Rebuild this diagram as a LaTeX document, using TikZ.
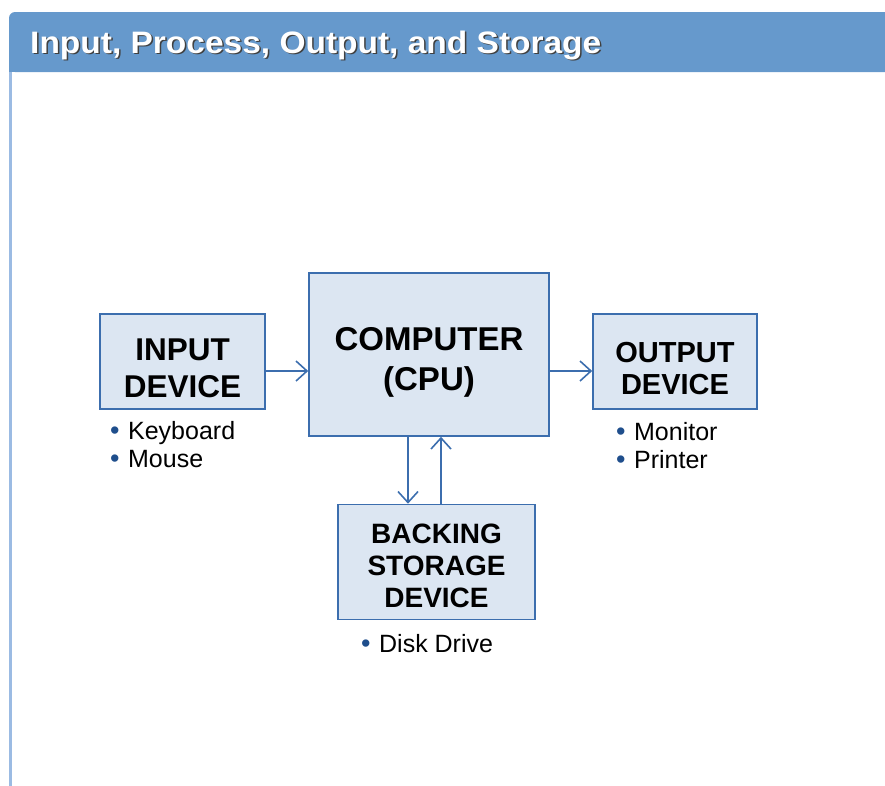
\documentclass[tikz,border=0pt]{standalone}
\usepackage{fontspec}
\setmainfont{Liberation Sans}
\usetikzlibrary{positioning,arrows.meta}
\definecolor{boxfill}{HTML}{DCE6F2}
\definecolor{boxline}{HTML}{3C6EAE}
\definecolor{bandblue}{HTML}{6699CC}
\definecolor{paneledge}{HTML}{9BBBE3}
\definecolor{dotblue}{HTML}{1F4E8C}
\newcommand{\itm}[1]{{\color{dotblue}\fontsize{27}{27}\selectfont\textbullet}\hspace{8.5pt}#1}
% taller first line pushes the box text a little down
\newcommand{\lift}[1]{\rule{0pt}{#1}}

\begin{document}
\begin{tikzpicture}[x=1pt,y=-1pt,
every node/.style={inner sep=0pt},
unit/.style={draw=boxline,fill=boxfill,line width=1.6pt,align=center,
font=\fontsize{29}{36}\selectfont\bfseries},
items/.style={anchor=base west,align=left,font=\fontsize{25}{28}\selectfont},
link/.style={draw=boxline,line width=1.6pt},
>={Straight Barb[length=11pt,width=20pt,line width=1.6pt]}]

\useasboundingbox (0,0) rectangle (885,785);

% heading band and panel edge
\fill[bandblue,rounded corners=6pt] (9,12) rectangle (900,72);
\fill[bandblue] (9,40) rectangle (900,72);
\draw[paneledge,line width=3pt] (10.5,72) -- (10.5,790);

\node (ts) [anchor=base west,text=black!75,xscale=1.08,
 font=\fontsize{31}{31}\selectfont\bfseries]
 at (31.5,54.5) {Input, Process, Output, and Storage};
\node (t) [anchor=base west,text=white,xscale=1.08,
 font=\fontsize{31}{31}\selectfont\bfseries]
 at (30,53) {Input, Process, Output, and Storage};

% the four units
\node (cpu) [unit,minimum width=240pt,minimum height=163pt,
 font=\fontsize{33}{40}\selectfont\bfseries] at (429,354.5)
 {\lift{38pt}COMPUTER\\(CPU)};
\node (inp) [unit,minimum width=165pt,minimum height=95pt,
 font=\fontsize{31.5}{37}\selectfont\bfseries] at (182.5,361.5)
 {\lift{35pt}INPUT\\DEVICE};
\node (out) [unit,minimum width=164pt,minimum height=95pt,
 font=\fontsize{29}{32}\selectfont\bfseries] at (675,361.5)
 {\lift{35pt}OUTPUT\\DEVICE};
\node (bs) [unit,minimum width=197pt,minimum height=115pt,
 font=\fontsize{28}{32}\selectfont\bfseries] at (436.5,562)
 {\lift{28pt}BACKING\\STORAGE\\DEVICE};

% examples under each unit
\node (ki) [items] at (110,467) {\itm{Keyboard}\\\itm{Mouse}};
\node (mo) [items] at (616,468) {\itm{Monitor}\\\itm{Printer}};
\node (dd) [items] at (361,652) {\itm{Disk Drive}};

\coordinate (h) at (0,371);
\coordinate (dn) at (408,0);
\coordinate (up) at (441,0);

\draw[link,->] (inp.east |- h) -- (cpu.west |- h);
\draw[link,->] (cpu.east |- h) -- (out.west |- h);
\draw[link,->] (cpu.south -| dn) -- (bs.north -| dn);
\draw[link,->] (bs.north -| up) -- (cpu.south -| up);

\end{tikzpicture}
\end{document}
